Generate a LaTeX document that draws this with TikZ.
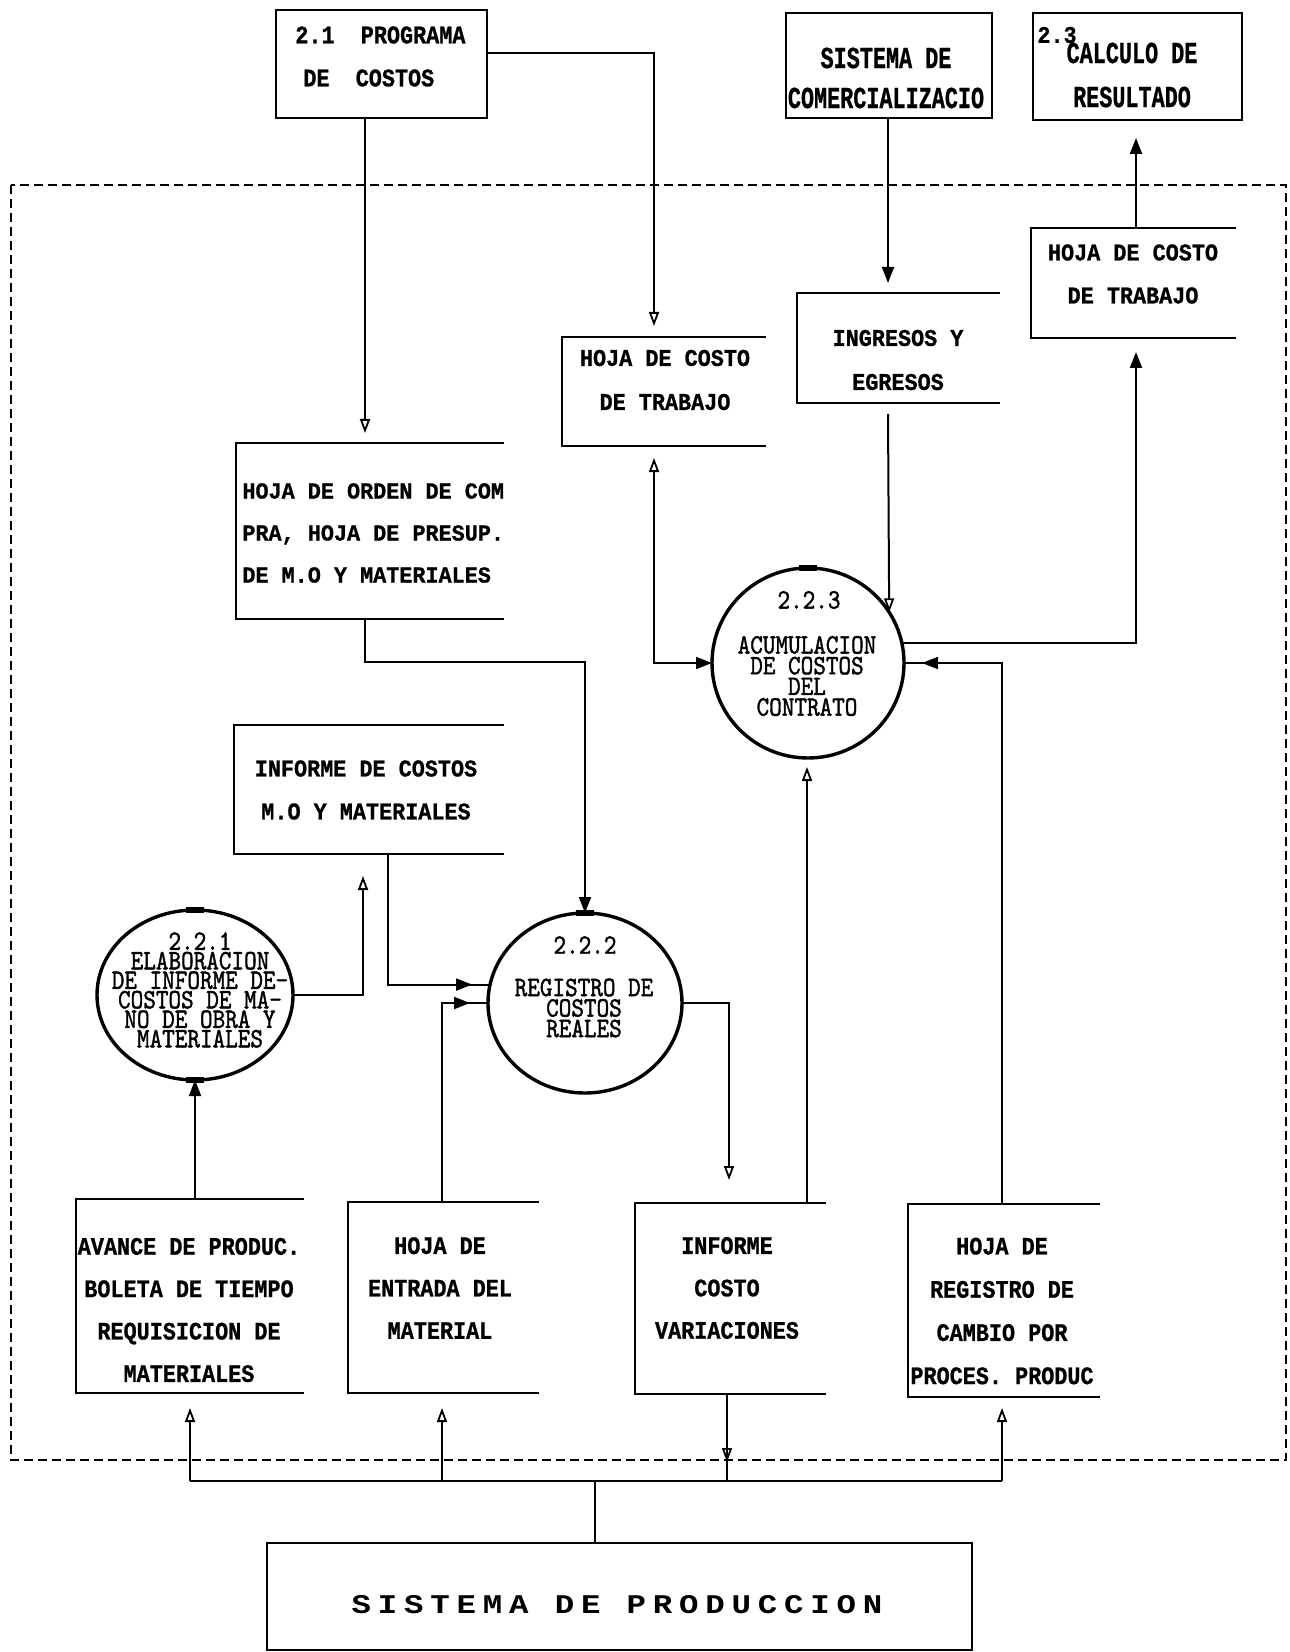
\documentclass[tikz,border=0pt]{standalone}
\usepackage{fontspec}
\usepackage{graphicx}
\usetikzlibrary{arrows.meta,shapes.geometric,fit,decorations.markings,calc}
\newfontfamily\boxfont{Liberation Mono}[BoldFeatures={FakeBold=1}]
\newfontfamily\sysfont{Liberation Mono}[LetterSpace=21]
\newfontfamily\circfont{lmmono10-regular.otf}[FakeBold=1.5]
\def\vsc{1}
\newcommand\vl[1]{\scalebox{1}[\vsc]{#1}}
% open-sided data store: top, left and bottom edges only
\newcommand\store[3]{%
  \node[frame, fit={#2 #3}] (#1) {};
  \draw[boxline] (#1.north east) -- (#1.north west) -- (#1.south west) -- (#1.south east);}
% closed box for external entities
\newcommand\entity[3]{%
  \node[frame, draw, boxline, fit={#2 #3}] (#1) {};}

\tikzset{
  fa/.tip={Triangle[length=8pt,width=6pt]},
  oa/.tip={Triangle[open,length=7pt,width=5pt,line width=0.9pt]},
  conn/.style={line width=1pt},
  boxline/.style={line width=1.3pt},
  frame/.style={inner sep=0pt, outer sep=0pt},
  proc/.style={ellipse, draw, line width=1.7pt, inner sep=0pt, outer sep=0pt},
  bt/.style 2 args={inner sep=0pt, align=center,
    font={\boxfont\bfseries\fontsize{10.9pt}{#2}\selectfont\def\vsc{#1}}},
  ct/.style={inner sep=0pt, align=center,
    font={\circfont\fontsize{12pt}{#1}\selectfont\def\vsc{1.17}}},
  midfa/.style={postaction={decorate,decoration={markings,mark=at position #1 with {\arrow{fa}}}}},
  midoa/.style={postaction={decorate,decoration={markings,mark=at position #1 with {\arrow{oa}}}}},
  bound/.style={line width=1.1pt, dash pattern=on 4.5pt off 2.5pt},
  topmark/.style={line width=2.6pt}
}

\begin{document}
\begin{tikzpicture}[x=0.5pt,y=-0.5pt]
\useasboundingbox (0,0) rectangle (1289,1652);

% system boundary
\draw[bound] (11,185) rectangle (1286,1460);

% external entities
\entity{p21}{(276,10)}{(487,118)}
\entity{sc}{(786,13)}{(992,118)}
\entity{p23}{(1033,13)}{(1242,120)}
\entity{sp}{(267,1543)}{(972,1650)}

% data stores
\store{hc1}{(562,337)}{(766,446)}
\store{ie}{(797,293)}{(1000,403)}
\store{hc2}{(1031,228)}{(1236,338)}
\store{ho}{(236,443)}{(504,619)}
\store{ic}{(234,725)}{(504,854)}
\store{av}{(76,1199)}{(304,1393)}
\store{he}{(348,1202)}{(539,1393)}
\store{iv}{(635,1203)}{(826,1394)}
\store{hr}{(908,1204)}{(1100,1397)}

% processes
\node[proc, minimum width=98pt, minimum height=85pt] (c1) at (195,995) {};
\node[proc, minimum width=97pt, minimum height=90pt] (c2) at (585,1003) {};
\node[proc, minimum width=96pt, minimum height=95pt] (c3) at (808,663) {};
\foreach \c in {c1,c2,c3}
  \draw[topmark] ([xshift=-4.5pt]\c.north) -- ([xshift=4.5pt]\c.north);
\draw[topmark] ([xshift=-4.5pt]c1.south) -- ([xshift=4.5pt]c1.south);

% texts of entities
\node[bt={1.16}{21pt}, anchor=west] (t21a) at (295,35) {\vl{2.1\ \ PROGRAMA}};
\node[bt={1.16}{21pt}, anchor=west] (t21b) at (303,78) {\vl{DE\ \ COSTOS}};
\node[bt={1.4}{20pt}] (tsc) at (886,78) {\vl{SISTEMA DE}\\\vl{COMERCIALIZACIO}};
\node[bt={1.1}{20pt}, anchor=west] (t23n) at (1037,35) {\vl{2.3}};
\node[bt={1.4}{22pt}] (t23) at (1132,75) {\vl{CALCULO DE}\\\vl{RESULTADO}};
\node[inner sep=0pt, font={\sysfont\bfseries\fontsize{13.5pt}{16pt}\selectfont}] (tsp)
  at (617,1605) {\scalebox{1.2}[1]{SISTEMA DE PRODUCCION}};

% texts of stores
\node[bt={1.1}{22pt}] (thc1) at (665,380) {\vl{HOJA DE COSTO}\\\vl{DE TRABAJO}};
\node[bt={1.1}{22pt}] (tie) at (898,360) {\vl{INGRESOS Y}\\\vl{EGRESOS}};
\node[bt={1.1}{21.5pt}] (thc2) at (1133,274) {\vl{HOJA DE COSTO}\\\vl{DE TRABAJO}};
\node[bt={1.05}{21pt}, align=left, anchor=west] (tho) at (242,533)
  {\vl{HOJA DE ORDEN DE COM}\\\vl{PRA, HOJA DE PRESUP.}\\\vl{DE M.O Y MATERIALES}};
\node[bt={1.1}{21.5pt}] (tic) at (366,790) {\vl{INFORME DE COSTOS}\\\vl{M.O Y MATERIALES}};
\node[bt={1.15}{21.2pt}] (tav) at (189,1310)
  {\vl{AVANCE DE PRODUC.}\\\vl{BOLETA DE TIEMPO}\\\vl{REQUISICION DE}\\\vl{MATERIALES}};
\node[bt={1.15}{21.2pt}] (the) at (440,1288) {\vl{HOJA DE}\\\vl{ENTRADA DEL}\\\vl{MATERIAL}};
\node[bt={1.15}{21.2pt}] (tiv) at (727,1288) {\vl{INFORME}\\\vl{COSTO}\\\vl{VARIACIONES}};
\node[bt={1.15}{21.6pt}] (thr) at (1002,1311)
  {\vl{HOJA DE}\\\vl{REGISTRO DE}\\\vl{CAMBIO POR}\\\vl{PROCES. PRODUC}};

% texts of processes
\node[ct={9.75pt}] (tc1) at (200,990)
  {\vl{2.2.1}\\\vl{ELABORACION}\\\vl{DE INFORME DE-}\\\vl{COSTOS DE MA-}\\\vl{NO DE OBRA Y}\\\vl{MATERIALES}};
\node[ct={10pt}] (tc2n) at (585,945) {\vl{2.2.2}};
\node[ct={10.25pt}] (tc2) at (584,1008) {\vl{REGISTRO DE}\\\vl{COSTOS}\\\vl{REALES}};
\node[ct={10pt}] (tc3n) at (809,600) {\vl{2.2.3}};
\node[ct={10.35pt}] (tc3) at (807,676) {\vl{ACUMULACION}\\\vl{DE COSTOS}\\\vl{DEL}\\\vl{CONTRATO}};

% bend points and free ends of flows
\coordinate (k1) at (365,433);
\coordinate (k2) at (654,326);
\coordinate (k3) at (888,283);
\coordinate (k4) at (1136,138);
\coordinate (k5) at (365,662);
\coordinate (k6) at (654,458);
\coordinate (k7) at (888,414);
\coordinate (k8) at (1136,352);
\coordinate (k10) at (807,767);
\coordinate (k11) at (729,1180);
\coordinate (k13) at (388,854);
\coordinate (k14) at (363,876);
\coordinate (jA) at (190,1481);
\coordinate (jB) at (442,1481);
\coordinate (j0) at (595,1481);
\coordinate (jC) at (727,1481);
\coordinate (jD) at (1002,1481);

% flows
\draw[conn,-{oa}] (p21.south -| k1) -- (k1);
\draw[conn,-{oa}] ($(p21.east)+(0,-11)$) -| (k2);
\draw[conn,-{fa}] (sc.south -| k3) -- (k3);
\draw[conn,-{fa}] (hc2.north -| k4) -- (k4);
\draw[conn,-{fa}] (ho.south -| k5) -- (k5) -| (c2.north);
\draw[conn,{oa}-{fa}] (k6) |- (c3.west);
\draw[conn,-{oa}] (k7) -- (c3.32.6);
\draw[conn,-{fa}] (c3.12.8) -| (k8);
\draw[conn,midfa=-9pt] (hr.north -| jD) |- (c3.east);
\draw[conn,-{oa}] (iv.north -| k10) -- (k10);
\draw[conn,-{oa}] (c2.east) -| (k11);
\draw[conn,midfa=-9pt] (he.north -| jB) |- (c2.west);
\draw[conn,midfa=-9pt] (ic.south -| k13) |- (c2.169);
\draw[conn,-{oa}] (c1.east) -| (k14);
\draw[conn,-{fa}] (av.north -| c1.south) -- (c1.south);

% distribution from the production system
\draw[conn] (sp.north -| j0) -- (j0);
\draw[conn] (jA) -- (jD);
\draw[conn,-{oa},shorten >=7.5pt] (jA) -- (av.south -| jA);
\draw[conn,-{oa},shorten >=7.5pt] (jB) -- (he.south -| jB);
\draw[conn,-{oa},shorten >=5.5pt] (jD) -- (hr.south -| jD);
\draw[conn,midoa=-9.5pt] (iv.south -| jC) -- (jC);
\end{tikzpicture}
\end{document}
